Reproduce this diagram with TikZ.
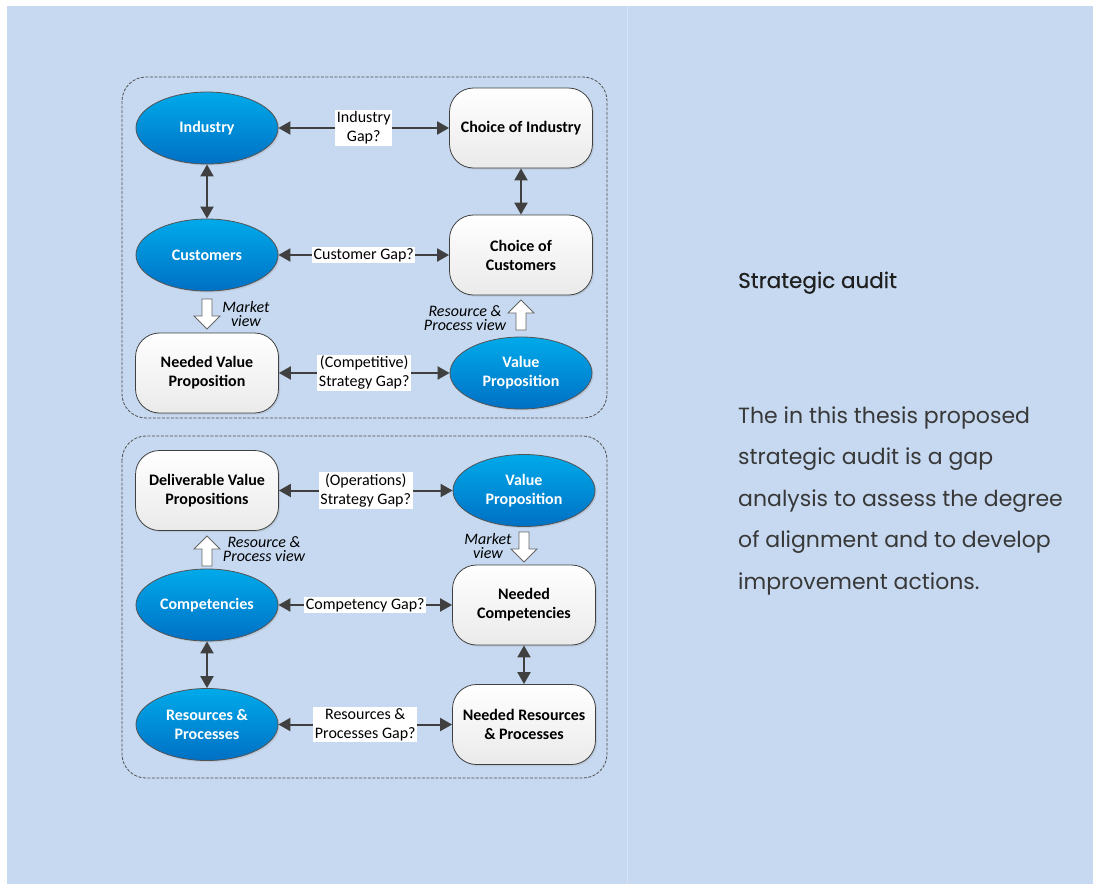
\documentclass[tikz,border=0pt]{standalone}
\usepackage{fontspec}
\setmainfont{Carlito}
\newfontfamily\sidefont{Poppins}
\newfontfamily\headfont[FakeBold=0.4]{Poppins}
\usetikzlibrary{arrows.meta,shapes.geometric,shadows}

\definecolor{panel}{HTML}{C6D9F0}
\definecolor{divider}{HTML}{D6E3F5}
\definecolor{ink}{HTML}{404040}
\definecolor{blobtop}{HTML}{00AAEA}
\definecolor{blobbot}{HTML}{0070C4}
\definecolor{cardbot}{HTML}{EAEAEA}
\definecolor{frame}{HTML}{505050}
\definecolor{bodytext}{HTML}{383838}

\tikzset{
  blob/.style={ellipse, draw=ink!90, line width=0.8pt, top color=blobtop, bottom color=blobbot,
    text=white, font=\fontsize{16}{19}\selectfont\bfseries, align=center,
    minimum width=142pt, minimum height=72pt, inner sep=0pt,
    drop shadow={shadow xshift=1.5pt, shadow yshift=-1.5pt, opacity=0.2}},
  card/.style={rectangle, rounded corners=24pt, draw=ink, line width=0.8pt, top color=white,
    bottom color=cardbot, text=black, font=\fontsize{16}{19}\selectfont\bfseries, align=center,
    minimum width=143pt, minimum height=80pt, inner sep=0pt,
    drop shadow={shadow xshift=1.5pt, shadow yshift=-1.5pt, opacity=0.2}},
  gap/.style={fill=white, inner sep=1.5pt, text=black, font=\fontsize{16}{19}\selectfont, align=center},
  link/.style={draw=ink, line width=2pt,
    {Triangle[length=12pt,width=13pt]}-{Triangle[length=12pt,width=13pt]}},
  view/.style={font=\fontsize{16}{13.5}\selectfont\itshape, align=center, inner sep=0pt, text=black},
  group/.style={draw=frame, line width=0.8pt, dash pattern=on 3pt off 1.5pt, rounded corners=24pt},
  hollow/.style={draw=ink!80, line width=0.8pt, fill=white},
  pics/hollowdown/.style={code={
    \draw[hollow] (-5,0) -- (5,0) -- (5,17) -- (13,17) -- (0,30) -- (-13,17) -- (-5,17) -- cycle;}},
  pics/hollowup/.style={code={
    \draw[hollow] (-5,0) -- (5,0) -- (5,-17) -- (13,-17) -- (0,-30) -- (-13,-17) -- (-5,-17) -- cycle;}},
}

\begin{document}
\begin{tikzpicture}[x=1pt,y=-1pt]
\useasboundingbox (0,0) rectangle (1093,884);
\fill[panel] (7,6) rectangle (1093,884);
\draw[divider, line width=1pt] (627,6) -- (627,884);

% group frames
\draw[group] (122,77) rectangle (607,418);
\draw[group] (122,436) rectangle (607,778);

% ---- market side
\node[blob] (ind) at (207,128) {Industry};
\node[card] (cind) at (521,128) {Choice of Industry};
\node[blob] (cus) at (207,255) {Customers};
\node[card] (ccus) at (521,255) {Choice of\\Customers};
\node[card] (nvp) at (207,373) {Needed Value\\Proposition};
\node[blob] (vp) at (521,373) {Value\\Proposition};

\draw[link] (ind) -- node[gap] {Industry\\Gap?} (cind);
\draw[link] (cus) -- node[gap] {Customer Gap?} (ccus);
\draw[link] (nvp) -- node[gap] {(Competitive)\\Strategy Gap?} (vp);
\draw[link] (ind) -- (cus);
\draw[link] (cind) -- (ccus);

\pic at (207,299) {hollowdown};
\node[view] (mv1) at (246,314) {Market\\view};
\pic at (521,330) {hollowup};
\node[view] (rp1) at (465,318) {Resource \&\\Process view};

% ---- resource side
\node[card] (dvp) at (207,490.5) {Deliverable Value\\Propositions};
\node[blob] (vp2) at (524,490.5) {Value\\Proposition};
\node[blob] (comp) at (207,605) {Competencies};
\node[card] (ncomp) at (524,605) {Needed\\Competencies};
\node[blob] (res) at (207,724.5) {Resources \&\\Processes};
\node[card] (nres) at (524,724.5) {Needed Resources\\\& Processes};

\draw[link] (dvp) -- node[gap] {(Operations)\\Strategy Gap?} (vp2);
\draw[link] (comp) -- node[gap] {Competency Gap?} (ncomp);
\draw[link] (res) -- node[gap] {Resources \&\\Processes Gap?} (nres);
\draw[link] (comp) -- (res);
\draw[link] (ncomp) -- (nres);

\pic at (207,566) {hollowup};
\node[view] (rp2) at (264,549) {Resource \&\\Process view};
\pic at (524,532) {hollowdown};
\node[view] (mv2) at (488,546) {Market\\view};

% ---- side text
\node[anchor=base west, inner sep=0pt, text=black!88, font=\headfont\fontsize{21.5}{25}\selectfont]
  (title) at (738,288) {Strategic audit};
\node[anchor=base west, inner sep=0pt, text=bodytext, font=\sidefont\fontsize{22}{41.5}\selectfont]
  (body) at (738,423) {\parbox[t]{350pt}{\raggedright
  The in this thesis proposed\\
  strategic audit is a gap\\
  analysis to assess the degree\\
  of alignment and to develop\\
  improvement actions.}};
\end{tikzpicture}
\end{document}
